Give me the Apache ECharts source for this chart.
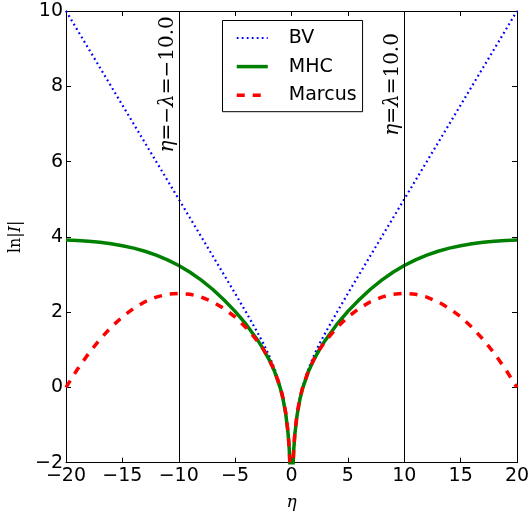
<!DOCTYPE html>
<html>
<head>
<meta charset="utf-8">
<script src="https://cdn.jsdelivr.net/npm/echarts@6/dist/echarts.min.js"></script>
<style>
html,body{margin:0;padding:0;background:#fff;}
#chart{width:532px;height:512px;}
</style>
</head>
<body>
<div id="chart"></div>
<script>
// eta values (overpotential)
const eta = [-20,-19,-18,-17,-16,-15,-14,-13,-12,-11,-10,-9,-8,-7,-6,-5,-4,-3,-2.5,-2,-1.5,-1,-0.75,-0.5,-0.3,-0.2,-0.1,
  0,
  0.1,0.2,0.3,0.5,0.75,1,1.5,2,2.5,3,4,5,6,7,8,9,10,11,12,13,14,15,16,17,18,19,20];
// ln|I| ('-' = undefined at eta = 0)
const bv = [10.0,9.5,9.0,8.5,8.0,7.5,7.0,6.5,6.0,5.5,5.0,4.5,4.0,3.5,2.998,2.496,1.982,1.449,1.170,0.855,0.497,0.041,-0.265,-0.683,-1.200,-1.608,-2.302,
  '-',
  -2.302,-1.608,-1.200,-0.683,-0.265,0.041,0.497,0.855,1.170,1.449,1.982,2.496,2.998,3.5,4.0,4.5,5.0,5.5,6.0,6.5,7.0,7.5,8.0,8.5,9.0,9.5,10.0];
const mhc = [3.919,3.905,3.885,3.857,3.817,3.765,3.700,3.618,3.515,3.390,3.240,3.060,2.850,2.608,2.331,2.020,1.666,1.255,1.018,0.747,0.421,-0.014,-0.313,-0.725,-1.242,-1.648,-2.341,
  '-',
  -2.341,-1.648,-1.242,-0.725,-0.313,-0.014,0.421,0.747,1.018,1.255,1.666,2.020,2.331,2.608,2.850,3.060,3.240,3.390,3.515,3.618,3.700,3.765,3.817,3.857,3.885,3.905,3.919];
const marcus = [0.000,0.475,0.900,1.275,1.600,1.875,2.100,2.275,2.400,2.475,2.500,2.475,2.400,2.275,2.098,1.871,1.582,1.224,1.014,0.755,0.441,0.016,-0.279,-0.689,-1.202,-1.609,-2.302,
  '-',
  -2.302,-1.609,-1.202,-0.689,-0.279,0.016,0.441,0.755,1.014,1.224,1.582,1.871,2.098,2.275,2.400,2.475,2.500,2.475,2.400,2.275,2.100,1.875,1.600,1.275,0.900,0.475,0.000];
const seriesNames = ['BV','MHC','Marcus'];
const seriesColors = ['#0000ff', '#008000', '#ff0000'];
const seriesWidths = [2.2, 3.5, 3.5];
const seriesDash = [[1.8, 3.2], 'solid', [8, 8]];
// vertical reference lines and their labels
const vlineX = [-10, 10];
const vlineLabels = ['{it|η}=−{it|λ}=−10.0', '{it|η}={it|λ}=10.0'];
const vlineLabelY = 8.05;

const pair = arr => eta.map((x, i) => [x, arr[i]]);
const minus = v => (v < 0 ? '\u2212' + Math.abs(v) : String(v));

const chart = echarts.init(document.getElementById('chart'), null, {renderer: 'canvas'});

const axisCommon = {
  axisLine: {show: true, onZero: false, lineStyle: {color: '#000', width: 1}},
  axisTick: {show: true, inside: true, length: 5, lineStyle: {color: '#000', width: 1}},
  splitLine: {show: false}
};

const lineStyleOf = i => ({color: seriesColors[i], width: seriesWidths[i], type: seriesDash[i], cap: 'butt'});

const option = {
  animation: false,
  backgroundColor: '#fff',
  grid: {left: 66, right: 15, top: 11, bottom: 49.3, containLabel: false, outerBoundsMode: 'none'},
  legend: {
    orient: 'vertical', left: 222.5, top: 20.5,
    padding: [8, 6, 7, 12.5], itemGap: 9.6, itemWidth: 31, itemHeight: 14,
    borderColor: '#000', borderWidth: 1, borderRadius: 0,
    backgroundColor: '#fff',
    itemStyle: {opacity: 0},
    textStyle: {fontSize: 19, color: '#000', fontFamily: 'DejaVu Sans', padding: [0, 0, 0, 16]},
    data: seriesNames.map((n, i) => ({name: n, lineStyle: lineStyleOf(i)}))
  },
  xAxis: [
    Object.assign({
      type: 'value', min: -20, max: 20, interval: 5, position: 'bottom',
      axisLabel: {fontSize: 19, color: '#000', fontFamily: 'DejaVu Sans', margin: 4, formatter: minus},
      name: 'η', nameLocation: 'middle', nameGap: 31,
      nameTextStyle: {fontFamily: 'DejaVu Serif', fontStyle: 'italic', fontSize: 17, color: '#000'}
    }, axisCommon),
    Object.assign({
      type: 'value', min: -20, max: 20, interval: 5, position: 'top',
      axisLabel: {show: false}
    }, axisCommon)
  ],
  yAxis: [
    Object.assign({
      type: 'value', min: -2, max: 10, interval: 2, position: 'left',
      axisLabel: {fontSize: 19, color: '#000', fontFamily: 'DejaVu Sans', margin: 3, formatter: minus},
      name: '{n|ln|}{i|I}{n||}', nameLocation: 'middle', nameGap: 40,
      nameTextStyle: {fontFamily: 'DejaVu Serif', fontSize: 16, color: '#000',
        rich: {n: {fontFamily: 'DejaVu Serif', fontSize: 16, color: '#000'},
               i: {fontFamily: 'DejaVu Serif', fontStyle: 'italic', fontSize: 16, color: '#000'}}}
    }, axisCommon),
    Object.assign({
      type: 'value', min: -2, max: 10, interval: 2, position: 'right',
      axisLabel: {show: false}
    }, axisCommon)
  ],
  series: [
    {
      name: 'BV', type: 'line', data: pair(bv), symbol: 'none', clip: true, z: 2,
      lineStyle: lineStyleOf(0),
      itemStyle: {color: seriesColors[0]},
      markLine: {
        silent: true, symbol: 'none', animation: false,
        label: {show: false},
        lineStyle: {color: '#000', width: 1, type: 'solid'},
        data: vlineX.map(x => ({xAxis: x}))
      }
    },
    {
      name: 'MHC', type: 'line', data: pair(mhc), symbol: 'none', clip: true, z: 3,
      lineStyle: lineStyleOf(1),
      itemStyle: {color: seriesColors[1]}
    },
    {
      name: 'Marcus', type: 'line', data: pair(marcus), symbol: 'none', clip: true, z: 4,
      lineStyle: lineStyleOf(2),
      itemStyle: {color: seriesColors[2]}
    }
  ]
};
chart.setOption(option);

// labels beside the vertical lines, positioned through the axes' scales
const graphics = vlineX.map((x, i) => {
  const p = chart.convertToPixel({xAxisIndex: 0, yAxisIndex: 0}, [x, vlineLabelY]);
  return {
    type: 'text', x: p[0] - 11, y: p[1], rotation: Math.PI / 2, z: 10,
    style: {
      text: vlineLabels[i], fill: '#000',
      font: '20px "DejaVu Serif"', align: 'center', verticalAlign: 'middle',
      rich: {it: {fontStyle: 'italic', fontFamily: 'DejaVu Serif', fontSize: 20, fill: '#000'}}
    }
  };
});
chart.setOption({graphic: graphics});
</script>
</body>
</html>
